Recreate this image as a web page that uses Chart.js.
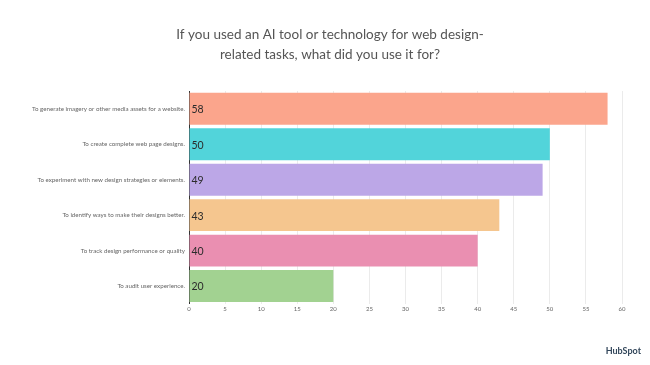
<!DOCTYPE html>
<html>
<head>
<meta charset="utf-8">
<script src="https://cdn.jsdelivr.net/npm/chart.js@4.4.1/dist/chart.umd.min.js"></script>
<style>
  html, body { margin: 0; padding: 0; background: #fff; }
</style>
</head>
<body>
<canvas id="chart" width="650" height="365"></canvas>
<script>
const categories = [
  "To generate imagery or other media assets for a website.",
  "To create complete web page designs.",
  "To experiment with new design strategies or elements.",
  "To identify ways to make their designs better.",
  "To track design performance or quality",
  "To audit user experience."
];
const values = [58, 50, 49, 43, 40, 20];
const barColors = ["#fba58c", "#52d4da", "#bca7e7", "#f5c68f", "#ea8fb1", "#a2d291"];
const titleLines = [
  "If you used an AI tool or technology for web design-",
  "related tasks, what did you use it for?"
];

// title sits off-centre in the original, so draw it by hand
const titleText = {
  id: "titleText",
  afterDraw(chart) {
    const ctx = chart.ctx;
    ctx.save();
    ctx.font = "13.5px Lato, sans-serif";
    ctx.fillStyle = "#555";
    ctx.textAlign = "center";
    ctx.textBaseline = "middle";
    titleLines.forEach((line, i) => {
      ctx.fillText(line, 330, 35 + i * 20);
    });
    ctx.restore();
  }
};

const valueLabels = {
  id: "valueLabels",
  afterDatasetsDraw(chart) {
    const ctx = chart.ctx;
    const meta = chart.getDatasetMeta(0);
    ctx.save();
    ctx.font = "10.5px Lato, sans-serif";
    ctx.fillStyle = "#2b2b2b";
    ctx.textAlign = "left";
    ctx.textBaseline = "middle";
    meta.data.forEach((bar, i) => {
      ctx.fillText(String(values[i]), bar.base + 2, bar.y + 1);
    });
    ctx.restore();
  }
};

const logo = {
  id: "logo",
  afterDraw(chart) {
    const ctx = chart.ctx;
    ctx.save();
    ctx.font = "bold 9px Lato, sans-serif";
    ctx.fillStyle = "#33475b";
    ctx.textAlign = "right";
    ctx.textBaseline = "middle";
    ctx.fillText("HubSpot", 641, 351);
    ctx.restore();
  }
};

new Chart(document.getElementById("chart"), {
  type: "bar",
  data: {
    labels: categories,
    datasets: [
      {
        data: values,
        backgroundColor: barColors,
        borderWidth: 0,
        categoryPercentage: 0.9,
        barPercentage: 1
      }
    ]
  },
  options: {
    indexAxis: "y",
    responsive: false,
    animation: false,
    layout: {
      padding: { left: 0, right: 28, top: 91, bottom: 50 }
    },
    plugins: {
      legend: { display: false },
      tooltip: { enabled: false },
      title: { display: false }
    },
    scales: {
      x: {
        min: 0,
        max: 60,
        ticks: {
          stepSize: 5,
          color: "#666",
          font: { family: "Lato, sans-serif", size: 6 },
          padding: 2
        },
        grid: { color: "#ebebeb", lineWidth: 1, drawTicks: false },
        border: { display: false }
      },
      y: {
        afterFit(scale) { scale.width = 189; },
        ticks: {
          color: "#666",
          font: { family: "Lato, sans-serif", size: 6.2 },
          padding: 4
        },
        grid: { display: false, drawTicks: false },
        border: { display: true, color: "#333", width: 1 }
      }
    }
  },
  plugins: [valueLabels, titleText, logo]
});
</script>
</body>
</html>
